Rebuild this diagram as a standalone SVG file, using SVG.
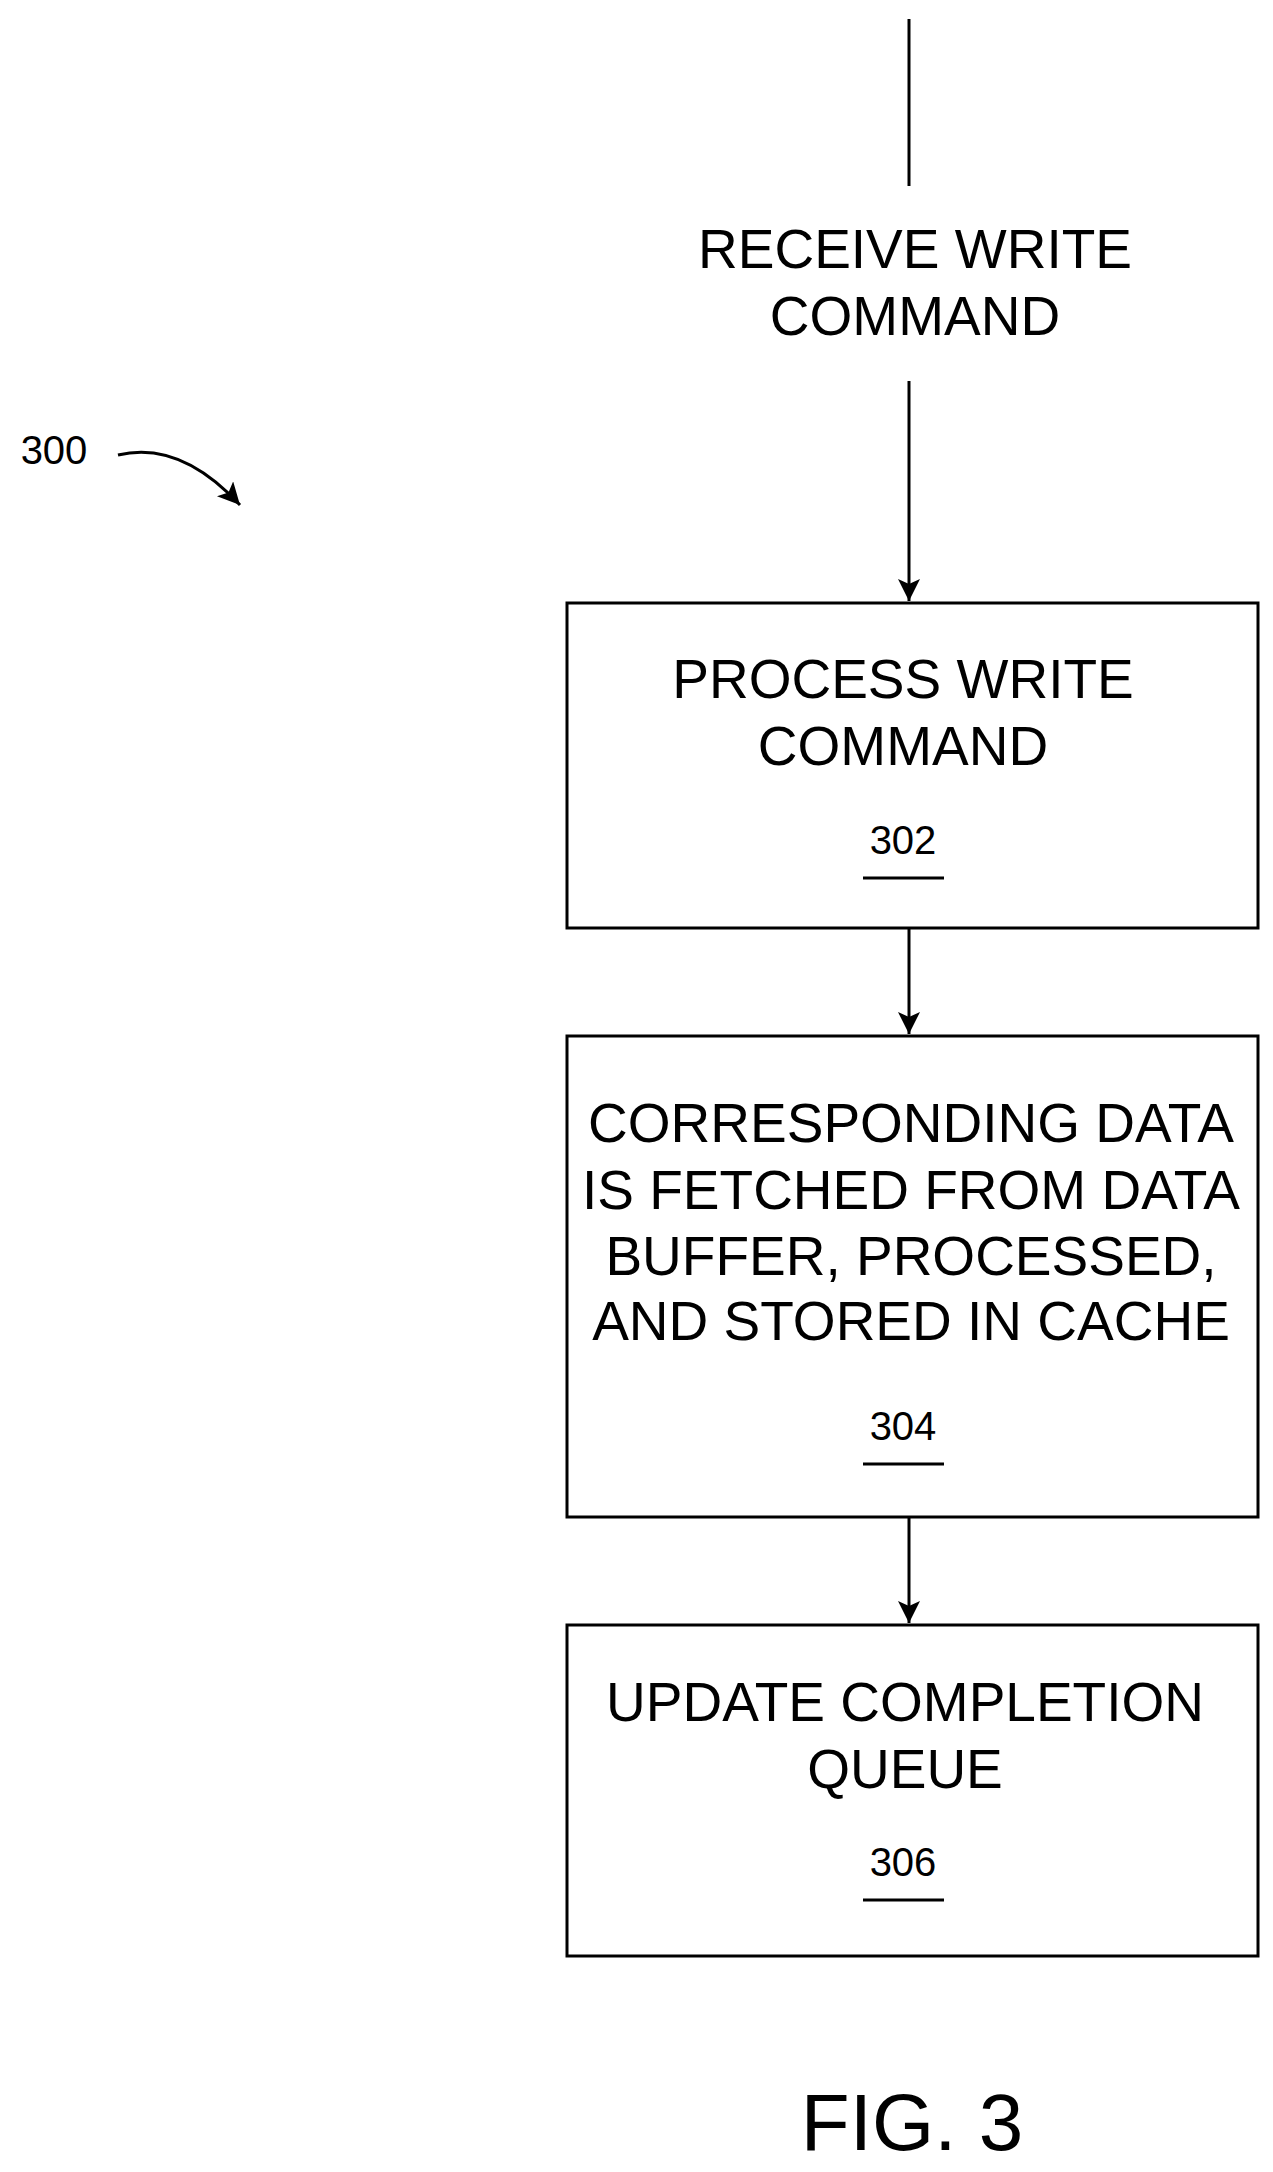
<svg xmlns="http://www.w3.org/2000/svg" width="1273" height="2172" viewBox="0 0 1273 2172">
<style>
.t{font-family:"Liberation Sans",Arial,sans-serif;font-size:55px;text-anchor:middle;fill:#000}
.n{font-family:"Liberation Sans",Arial,sans-serif;font-size:40px;text-anchor:middle;fill:#000}
.b{fill:#fff;stroke:#000;stroke-width:3}
.l{stroke:#000;stroke-width:3;fill:none}
</style>
<defs>
<marker id="ah" markerWidth="22" markerHeight="34" refX="22" refY="11" orient="auto" markerUnits="userSpaceOnUse"><path d="M0,0 L22,11 L0,22 L5,11 z" fill="#000"/></marker></defs>
<rect width="1273" height="2172" fill="#fff"/>
<g id="connectors">
<line class="l" x1="909" y1="19" x2="909" y2="186"/>
<line class="l" x1="909" y1="381" x2="909" y2="601" marker-end="url(#ah)"/>
<line class="l" x1="909" y1="928" x2="909" y2="1034" marker-end="url(#ah)"/>
<line class="l" x1="909" y1="1517" x2="909" y2="1623" marker-end="url(#ah)"/>
</g>
<g id="start"><text class="t" x="915" y="268">RECEIVE WRITE</text><text class="t" x="915" y="335">COMMAND</text></g>
<g id="n302"><rect class="b" x="567" y="603" width="691" height="325"/>
<text class="t" x="903" y="698">PROCESS WRITE</text><text class="t" x="903" y="765">COMMAND</text>
<text class="n" x="903" y="854">302</text><line class="l" x1="863" y1="878" x2="944" y2="878"/></g>
<g id="n304"><rect class="b" x="567" y="1036" width="691" height="481"/>
<text class="t" x="911" y="1142">CORRESPONDING DATA</text><text class="t" x="911" y="1209">IS FETCHED FROM DATA</text>
<text class="t" x="911" y="1275">BUFFER, PROCESSED,</text><text class="t" x="911" y="1340">AND STORED IN CACHE</text>
<text class="n" x="903" y="1440">304</text><line class="l" x1="863" y1="1464" x2="944" y2="1464"/></g>
<g id="n306"><rect class="b" x="567" y="1625" width="691" height="331"/>
<text class="t" x="905" y="1721">UPDATE COMPLETION</text><text class="t" x="905" y="1788">QUEUE</text>
<text class="n" x="903" y="1876">306</text><line class="l" x1="863" y1="1900" x2="944" y2="1900"/></g>
<g id="ref300"><text class="n" x="54" y="464">300</text>
<path class="l" d="M118,455 Q180,440 240,505" marker-end="url(#ah)"/></g>
<text class="t" style="font-size:80px" x="912" y="2150">FIG. 3</text>
</svg>
